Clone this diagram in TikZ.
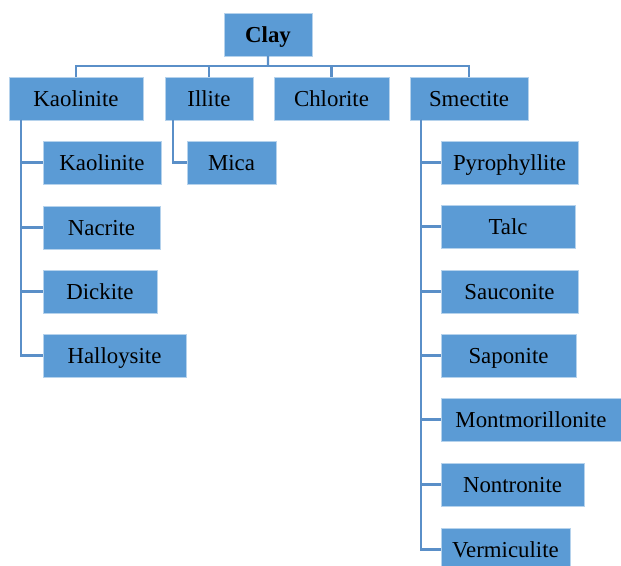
\documentclass[tikz,border=0pt]{standalone}
\usepackage{fontspec}
\setmainfont{Liberation Serif}
\usetikzlibrary{positioning}
\definecolor{boxblue}{HTML}{5B9BD5}
\definecolor{linkblue}{HTML}{5A8FC8}
\tikzset{
  cbox/.style={rectangle, anchor=north west, fill=boxblue, draw=white!55!boxblue, line width=0.5pt,
    inner sep=0pt, outer sep=0pt, minimum height=1.29cm, text height=12.9pt, text depth=0pt,
    font=\fontsize{19.5}{23}\selectfont},
  link/.style={draw=linkblue, line width=2pt},
}
\begin{document}
\begin{tikzpicture}[x=0.03cm, y=-0.03cm]
  \useasboundingbox (0,0) rectangle (621,566);
  % root
  \node[cbox, minimum width=2.64cm, font=\fontsize{19.5}{23}\selectfont\bfseries] (clay) at (224,13) {Clay};
  % groups
  \node[cbox, minimum width=4.02cm] (kao) at (9,77) {Kaolinite};
  \node[cbox, minimum width=2.64cm] (ill) at (165,77) {Illite};
  \node[cbox, minimum width=3.45cm] (chl) at (274,77) {Chlorite};
  \node[cbox, minimum width=3.54cm] (sme) at (410,77) {Smectite};
  % kaolinite group
  \node[cbox, minimum width=3.54cm] (k1) at (43,141) {Kaolinite};
  \node[cbox, minimum width=3.51cm] (k2) at (43,206) {Nacrite};
  \node[cbox, minimum width=3.42cm] (k3) at (43,270) {Dickite};
  \node[cbox, minimum width=4.29cm] (k4) at (43,334) {Halloysite};
  % illite group
  \node[cbox, minimum width=2.67cm] (i1) at (187,141) {Mica};
  % smectite group
  \node[cbox, minimum width=4.11cm] (s1) at (441,141) {Pyrophyllite};
  \node[cbox, minimum width=4.02cm] (s2) at (441,205) {Talc};
  \node[cbox, minimum width=4.11cm] (s3) at (441,270) {Sauconite};
  \node[cbox, minimum width=4.05cm] (s4) at (441,334) {Saponite};
  \node[cbox, minimum width=5.4cm] (s5) at (441,398) {Montmorillonite};
  \node[cbox, minimum width=4.29cm] (s6) at (441,463) {Nontronite};
  \node[cbox, minimum width=3.87cm] (s7) at (441,528) {Vermiculite};
  % links
  \coordinate (bus) at (268,66);
  \draw[link] (clay.south) -- (bus);
  \foreach \n in {kao,ill,chl,sme}
    \draw[link] (\n.north) |- (bus);
  \coordinate (kspine) at (21,120);
  \foreach \n in {k1,k2,k3,k4}
    \draw[link] (kspine) |- (\n.west);
  \coordinate (ispine) at (173,120);
  \draw[link] (ispine) |- (i1.west);
  \coordinate (sspine) at (421,120);
  \foreach \n in {s1,s2,s3,s4,s5,s6,s7}
    \draw[link] (sspine) |- (\n.west);
\end{tikzpicture}
\end{document}
